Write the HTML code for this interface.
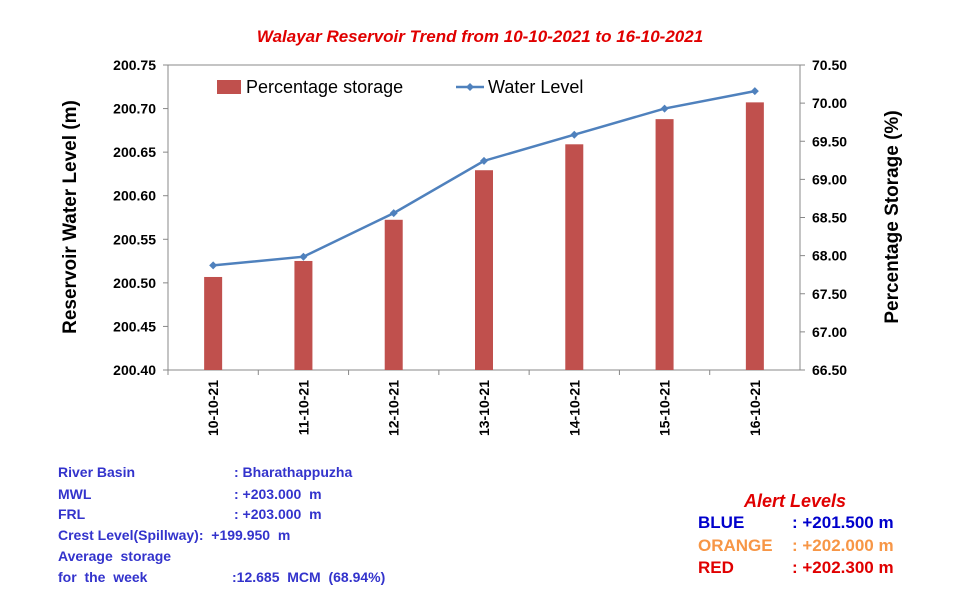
<!DOCTYPE html>
<html><head><meta charset="utf-8"><style>
body{margin:0;background:#fff;font-family:"Liberation Sans",Arial,sans-serif}
svg text{font-family:"Liberation Sans",Arial,sans-serif}
.info{position:absolute;left:58px;font-size:14px;font-weight:bold;color:#3333cc}
</style></head><body>
<div style="position:relative;width:960px;height:600px">
<svg id="c" width="960" height="600" style="position:absolute;left:0;top:0"></svg>
<div class="info" style="top:464px">River Basin<span style="position:absolute;left:176px;white-space:nowrap">: Bharathappuzha</span></div>
<div class="info" style="top:486px">MWL<span style="position:absolute;left:176px;white-space:nowrap">: +203.000&nbsp; m</span></div>
<div class="info" style="top:506px">FRL<span style="position:absolute;left:176px;white-space:nowrap">: +203.000&nbsp; m</span></div>
<div class="info" style="top:527px;white-space:nowrap">Crest Level(Spillway):&nbsp; +199.950&nbsp; m</div>
<div class="info" style="top:548px">Average&nbsp; storage</div>
<div class="info" style="top:569px;white-space:nowrap">for&nbsp; the&nbsp; week<span style="position:absolute;left:174px">:12.685&nbsp; MCM&nbsp; (68.94%)</span></div>
<div style="position:absolute;left:744px;top:491px;font-size:18px;font-style:italic;font-weight:bold;color:#e00000">Alert Levels</div>
<div style="position:absolute;left:698px;top:513px;font-size:17px;font-weight:bold;color:#0000cc;white-space:nowrap">BLUE<span style="position:absolute;left:94px">: +201.500 m</span></div>
<div style="position:absolute;left:698px;top:536px;font-size:17px;font-weight:bold;color:#f79646;white-space:nowrap">ORANGE<span style="position:absolute;left:94px">: +202.000 m</span></div>
<div style="position:absolute;left:698px;top:558px;font-size:17px;font-weight:bold;color:#e00000;white-space:nowrap">RED<span style="position:absolute;left:94px">: +202.300 m</span></div>
</div>
<script>
const categories=["10-10-21","11-10-21","12-10-21","13-10-21","14-10-21","15-10-21","16-10-21"];
const waterLevel=[200.52,200.53,200.58,200.64,200.67,200.70,200.72];
const storagePct=[67.72,67.93,68.47,69.12,69.46,69.79,70.01];
const leftTicks=["200.40","200.45","200.50","200.55","200.60","200.65","200.70","200.75"];
const rightTicks=["66.50","67.00","67.50","68.00","68.50","69.00","69.50","70.00","70.50"];
const svg=document.getElementById('c');const NS="http://www.w3.org/2000/svg";
function el(t,a,txt){const e=document.createElementNS(NS,t);for(const k in a)e.setAttribute(k,a[k]);if(txt!==undefined)e.textContent=txt;svg.appendChild(e);return e;}
const X0=168,X1=800,Y0=370,Y1=65;
const yL=v=>Y0-(v-200.40)/(0.35)*(Y0-Y1);
const yR=v=>Y0-(v-66.5)/4*(Y0-Y1);
const bw=(X1-X0)/categories.length;
const xC=i=>X0+bw*(i+0.5);
let e;
e=el('text',{x:480,y:42,'text-anchor':'middle','font-size':17,'font-style':'italic','font-weight':'bold',fill:'#e00000'},'Walayar Reservoir Trend from 10-10-2021 to 16-10-2021');

e=el('rect',{x:X0,y:Y1,width:X1-X0,height:Y0-Y1,fill:'none',stroke:'#888','stroke-width':1});

leftTicks.forEach(t=>{const y=yL(+t);
e=el('text',{x:156,y:y+5,'text-anchor':'end','font-size':14,'font-weight':'bold'},t);

el('line',{x1:X0-5,x2:X0,y1:y,y2:y,stroke:'#888'});});
rightTicks.forEach(t=>{const y=yR(+t);
e=el('text',{x:812,y:y+5,'font-size':14,'font-weight':'bold'},t);

el('line',{x1:X1,x2:X1+5,y1:y,y2:y,stroke:'#888'});});
categories.forEach((c,i)=>{const x=xC(i);
el('line',{x1:X0+bw*i,x2:X0+bw*i,y1:Y0,y2:Y0+5,stroke:'#888'});
e=el('text',{x:0,y:0,'text-anchor':'end','font-size':14,'font-weight':'bold',transform:`translate(${x+5},${Y0+10}) rotate(-90)`},c);

const top=yR(storagePct[i]);
e=el('rect',{x:x-9,y:top,width:18,height:Y0-top,fill:'#c0504d'});
});
const pts=waterLevel.map((v,i)=>xC(i)+','+yL(v)).join(' ');
e=el('polyline',{points:pts,fill:'none',stroke:'#4f81bd','stroke-width':2.5});

waterLevel.forEach((v,i)=>{const x=xC(i),y=yL(v);
e=el('polygon',{points:`${x},${y-4} ${x+4},${y} ${x},${y+4} ${x-4},${y}`,fill:'#4f81bd'});
});
e=el('text',{x:0,y:0,'text-anchor':'middle','font-size':19,'font-weight':'bold',transform:'translate(76,217) rotate(-90)'},'Reservoir Water Level (m)');

e=el('text',{x:0,y:0,'text-anchor':'middle','font-size':19,'font-weight':'bold',transform:'translate(898,217) rotate(-90)'},'Percentage Storage (%)');

e=el('rect',{x:217,y:80,width:24,height:14,fill:'#c0504d'});

e=el('text',{x:246,y:93,'font-size':18},'Percentage storage');

el('line',{x1:456,x2:484,y1:87,y2:87,stroke:'#4f81bd','stroke-width':2.5});
e=el('polygon',{points:'470,83 474,87 470,91 466,87',fill:'#4f81bd'});

e=el('text',{x:488,y:93,'font-size':18},'Water Level');

</script>
</body></html>
